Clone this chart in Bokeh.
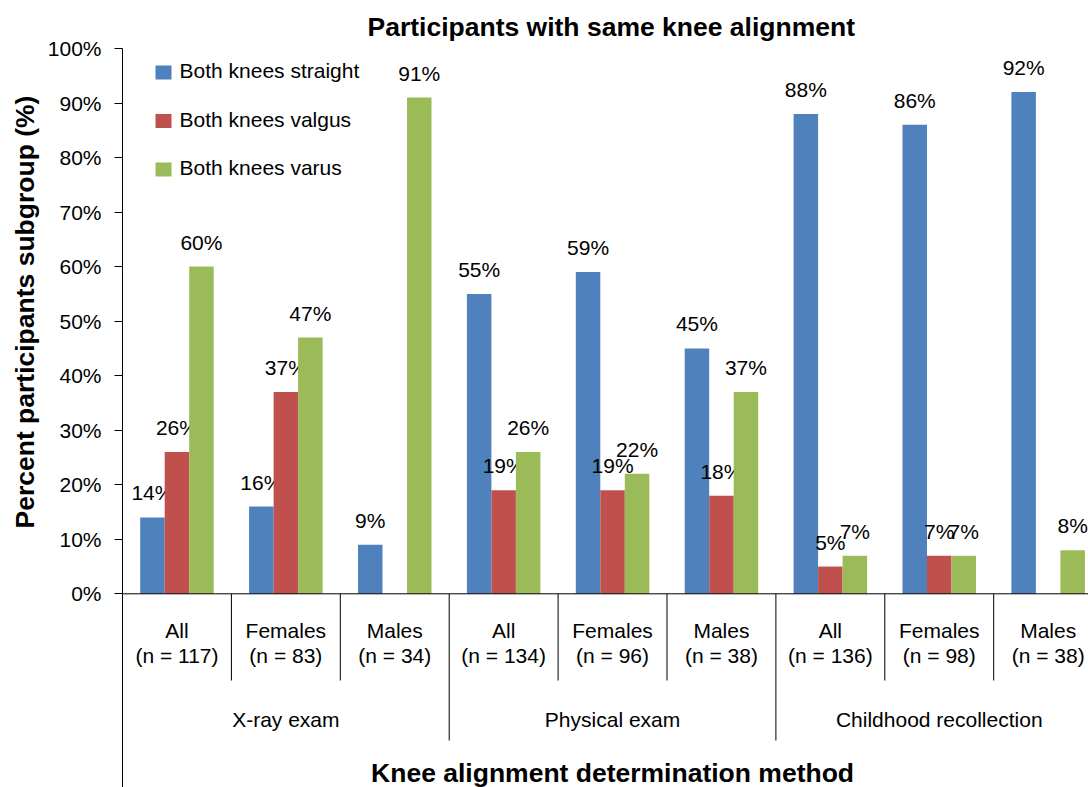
from bokeh.core.properties import value
from bokeh.embed import file_html
from bokeh.models import FixedTicker, PrintfTickFormatter, Range1d, Title
from bokeh.plotting import figure
from bokeh.resources import INLINE

# ---- data -----------------------------------------------------------------
subgroups = ["All", "Females", "Males", "All", "Females", "Males", "All", "Females", "Males"]
n_labels = ["(n = 117)", "(n = 83)", "(n = 34)",
            "(n = 134)", "(n = 96)", "(n = 38)",
            "(n = 136)", "(n = 98)", "(n = 38)"]
methods = ["X-ray exam", "Physical exam", "Childhood recollection"]

series_names = ["Both knees straight", "Both knees valgus", "Both knees varus"]
straight = [14, 16, 9, 55, 59, 45, 88, 86, 92]
valgus = [26, 37, 0, 19, 19, 18, 5, 7, 0]
varus = [60, 47, 91, 26, 22, 37, 7, 7, 8]

y_ticks = [0, 10, 20, 30, 40, 50, 60, 70, 80, 90, 100]

# ---- styling / layout -----------------------------------------------------
COLORS = ["#4F81BD", "#C0504D", "#9BBB59"]
FONT = "Liberation Sans"
W, H = 1088, 787
LEFT, TOP = 122, 48            # frame offsets in pixels
GROUP_PX = 108.9               # width of one category slot in pixels
Y_PX = 5.453                   # pixels per percentage point
BAR_W = 0.225                  # bar width in category units
SHIFT = 8.5                    # baseline correction for svg text, pixels

x_end = (W - LEFT) / GROUP_PX
y_start = 100 - (H - TOP) / Y_PX


def px_x(px):
    return (px - LEFT) / GROUP_PX


def px_y(py):
    """Data y for a text baseline wanted at canvas row py."""
    return 100 - (py - SHIFT - TOP) / Y_PX


p = figure(width=W, height=H, output_backend="svg", toolbar_location=None,
           x_range=Range1d(0, x_end), y_range=Range1d(y_start, 100),
           x_axis_location=None, min_border_left=LEFT, min_border_top=TOP,
           min_border_right=0, min_border_bottom=0)
p.outline_line_color = None
p.xgrid.visible = False
p.ygrid.visible = False
p.background_fill_color = "white"
p.border_fill_color = "white"

# chart title
p.title.text = "Participants with same knee alignment"
p.title.align = "left"
p.title.offset = 245
p.title.standoff = 13
p.title.text_font = FONT
p.title.text_font_size = "26.5px"
p.title.text_font_style = "bold"
p.title.text_color = "black"

# y axis
ax = p.yaxis[0]
ax.ticker = FixedTicker(ticks=y_ticks)
ax.formatter = PrintfTickFormatter(format="%d%%")
ax.axis_line_color = "black"
ax.axis_line_width = 1
ax.major_tick_line_color = "black"
ax.major_tick_out = 8
ax.major_tick_in = 0
ax.minor_tick_line_color = None
ax.major_label_standoff = 13
ax.major_label_text_font = FONT
ax.major_label_text_font_size = "21px"
ax.major_label_text_color = "black"

# y axis title, placed along the 0-100% span
p.add_layout(Title(text="Percent participants subgroup (%)", align="left",
                   offset=259, standoff=9, text_font=FONT,
                   text_font_size="26.5px", text_font_style="bold",
                   text_color="black"), "left")

# ---- bars -----------------------------------------------------------------
n = len(subgroups)
centers = [i + 0.5 for i in range(n)]
all_series = [straight, valgus, varus]
for k, (vals, color) in enumerate(zip(all_series, COLORS)):
    xs = [c + (k - 1) * BAR_W for c in centers]
    p.vbar(x=xs, top=vals, bottom=0, width=BAR_W, fill_color=color,
           line_color=None)
    shown = [(x, v) for x, v in zip(xs, vals) if v > 0]
    p.text(x=[s[0] for s in shown], y=[s[1] for s in shown],
           text=[f"{s[1]}%" for s in shown], text_align="center",
           text_baseline="alphabetic", y_offset=-(16 + SHIFT),
           text_font=value(FONT), text_font_size="21px", text_color="black")

# ---- category axis --------------------------------------------------------
y_short = 100 - (680 - TOP) / Y_PX
y_long = 100 - (740 - TOP) / Y_PX
p.segment(x0=[0], y0=[0], x1=[x_end], y1=[0], line_color="black", line_width=1)
bounds = list(range(1, n))
long_b = [b for b in bounds if b % 3 == 0]
short_b = [b for b in bounds if b % 3 != 0]
p.segment(x0=short_b, y0=[0] * len(short_b), x1=short_b,
          y1=[y_short] * len(short_b), line_color="black", line_width=1)
p.segment(x0=long_b, y0=[0] * len(long_b), x1=long_b,
          y1=[y_long] * len(long_b), line_color="black", line_width=1)

p.text(x=centers, y=[px_y(638.5)] * n, text=subgroups, text_align="center",
       text_baseline="alphabetic", text_font=value(FONT),
       text_font_size="21px", text_color="black")
p.text(x=centers, y=[px_y(663.5)] * n, text=n_labels, text_align="center",
       text_baseline="alphabetic", text_font=value(FONT),
       text_font_size="21px", text_color="black")
method_x = [3 * j + 1.5 for j in range(len(methods))]
p.text(x=method_x, y=[px_y(727)] * len(methods), text=methods,
       text_align="center", text_baseline="alphabetic", text_font=value(FONT),
       text_font_size="21px", text_color="black")

# x axis title
p.text(x=[n / 2], y=[px_y(781)], text=["Knee alignment determination method"],
       text_align="center", text_baseline="alphabetic", text_font=value(FONT),
       text_font_size="26.5px", text_font_style="bold", text_color="black")

# ---- legend ---------------------------------------------------------------
leg_rows = [72, 120.5, 169]
p.rect(x=[px_x(163)] * 3, y=[100 - (r - TOP) / Y_PX for r in leg_rows],
       width=16, height=14, width_units="screen", height_units="screen",
       fill_color=COLORS, line_color=None)
p.text(x=[px_x(179)] * 3, y=[px_y(r + 6.5) for r in leg_rows],
       text=series_names, text_align="left", text_baseline="alphabetic",
       text_font=value(FONT), text_font_size="21px", text_color="black")

open("out.html", "w").write(file_html(p, INLINE))
